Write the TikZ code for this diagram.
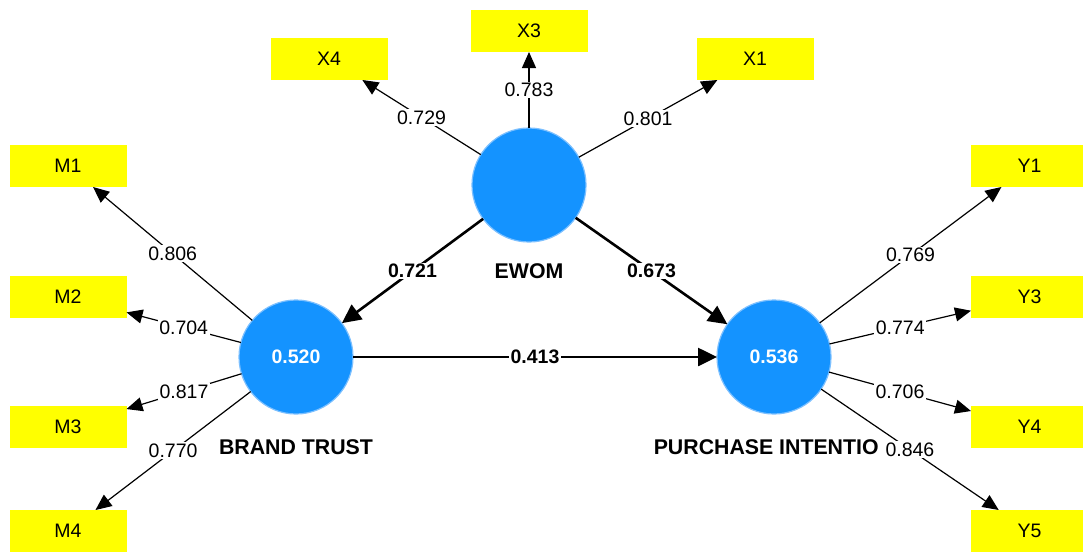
\documentclass[tikz,border=0pt]{standalone}
\usepackage{fontspec}
\setmainfont{Liberation Sans}
\definecolor{itemyellow}{HTML}{FFFF00}
\definecolor{latentblue}{HTML}{1493FF}
\definecolor{latentedge}{HTML}{7CC0FF}
\usetikzlibrary{arrows.meta,positioning}

\begin{document}
\begin{tikzpicture}[
  x=1pt, y=-1pt,
  indicator/.style={rectangle, fill=itemyellow, minimum width=117pt, minimum height=42pt, inner sep=0pt, outer sep=0pt, font=\fontsize{19.5}{22}\selectfont},
  latent/.style={circle, fill=latentblue, draw=latentedge, line width=1.2pt, minimum size=114pt, inner sep=0pt, outer sep=0pt, text=white, font=\fontsize{19.5}{22}\selectfont\bfseries},
  latentname/.style={inner sep=0pt, font=\fontsize{21.3}{24}\selectfont\bfseries},
  loading/.style={-{Triangle[length=16pt,width=14pt]}, line width=1.2pt},
  structural/.style={-{Triangle[length=19pt,width=18pt]}, line width=2.6pt},
  coef/.style={fill=white, inner sep=1.5pt, font=\fontsize{19.5}{22}\selectfont},
  pathcoef/.style={fill=white, inner sep=1.5pt, font=\fontsize{19.5}{22}\selectfont\bfseries},
]
\useasboundingbox (0,0) rectangle (1083,551);

\node[latent] (ewom) at (529,185) {};
\node[latent] (trust) at (296,357) {0.520};
\node[latent] (intent) at (774,357) {0.536};

\node[indicator] (x4) at (329,59) {X4};
\node[indicator] (x3) at (529,31) {X3};
\node[indicator] (x1) at (755,59) {X1};
\node[indicator] (m1) at (68,166) {M1};
\node[indicator] (m2) at (68,297) {M2};
\node[indicator] (m3) at (68,427) {M3};
\node[indicator] (m4) at (68,531) {M4};
\node[indicator] (y1) at (1029.5,166) {Y1};
\node[indicator] (y3) at (1029.5,297) {Y3};
\node[indicator] (y4) at (1029.5,427) {Y4};
\node[indicator] (y5) at (1029.5,531) {Y5};

\node[latentname, below=21pt of ewom] {EWOM};
\node[latentname, below=25pt of trust] {BRAND TRUST};
\node[latentname, below=25pt of intent, xshift=-7.8pt] {PURCHASE INTENTIO};

\draw[loading] (ewom) -- node[coef] {0.729} (x4);
\draw[loading] (ewom) -- node[coef] {0.783} (x3);
\draw[loading] (ewom) -- node[coef] {0.801} (x1);
\draw[loading] (trust) -- node[coef] {0.806} (m1);
\draw[loading] (trust) -- node[coef] {0.704} (m2);
\draw[loading] (trust) -- node[coef] {0.817} (m3);
\draw[loading] (trust) -- node[coef] {0.770} (m4);
\draw[loading] (intent) -- node[coef] {0.769} (y1);
\draw[loading] (intent) -- node[coef] {0.774} (y3);
\draw[loading] (intent) -- node[coef] {0.706} (y4);
\draw[loading] (intent) -- node[coef] {0.846} (y5);

\draw[structural] (ewom) -- node[pathcoef] {0.721} (trust);
\draw[structural] (ewom) -- node[pathcoef] {0.673} (intent);
\draw[structural] (trust) -- node[pathcoef] {0.413} (intent);
\end{tikzpicture}
\end{document}
